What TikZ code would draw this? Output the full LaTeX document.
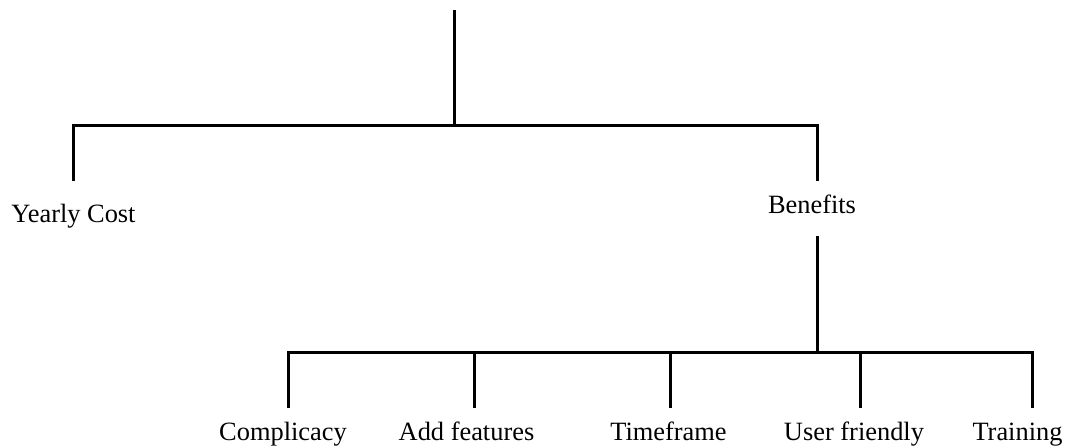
\documentclass[tikz,border=0pt]{standalone}
\usepackage{fontspec}
\setmainfont{Liberation Serif}
\begin{document}
\begin{tikzpicture}[x=1pt,y=-1pt,
  conn/.style={line width=3pt,line join=miter},
  lbl/.style={anchor=base,inner sep=0pt,font=\fontsize{26.4}{30}\selectfont}]
\useasboundingbox (0,0) rectangle (1077,447);
% labels
\node[lbl] (yc) at (73.5,222) {Yearly Cost};
\node[lbl] (bn) at (812,213) {Benefits};
\node[lbl] (c1) at (283,440) {Complicacy};
\node[lbl] (c2) at (466.5,440) {Add features};
\node[lbl] (c3) at (668.5,440) {Timeframe};
\node[lbl] (c4) at (854,440) {User friendly};
\node[lbl] (c5) at (1017.5,440) {Training};
% connector ends
\coordinate (root) at (454,10);
\coordinate (bar1) at (454,125);
\coordinate (ycIn) at (73,181);
\coordinate (bnIn) at (817,181);
\coordinate (bnOut) at (817,236);
\coordinate (bar2) at (817,352);
\coordinate (c1In) at (288,408);
\coordinate (c2In) at (474,408);
\coordinate (c3In) at (670,408);
\coordinate (c4In) at (860,408);
\coordinate (c5In) at (1032,408);
% connectors
\draw[conn] (root) -- (bar1);
\draw[conn] (ycIn) |- (bar1) -| (bnIn);
\draw[conn] (bnOut) -- (bar2);
\draw[conn] (c1In) |- (bar2) -| (c5In);
\draw[conn] (c2In) -- (c2In |- bar2);
\draw[conn] (c3In) -- (c3In |- bar2);
\draw[conn] (c4In) -- (c4In |- bar2);
\end{tikzpicture}
\end{document}
